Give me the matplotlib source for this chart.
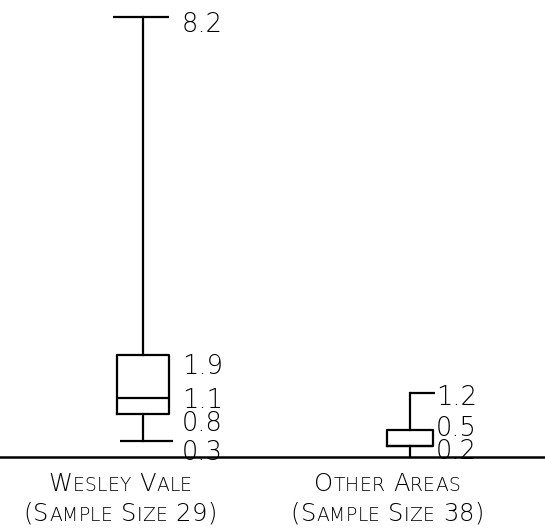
import matplotlib.pyplot as plt
from matplotlib.transforms import IdentityTransform, offset_copy

# box plot summary values
groups = ["Wesley Vale", "Other Areas"]
sample_sizes = [29, 38]
whislo = [0.3, 0.0]
q1 = [0.8, 0.2]
med = [1.1, 0.2]
q3 = [1.9, 0.5]
whishi = [8.2, 1.2]
value_labels = [[8.2, 1.9, 1.1, 0.8, 0.3], [1.2, 0.5, 0.2]]

plt.rcParams['font.family'] = ['DejaVu Sans']

fig = plt.figure(figsize=(5.45, 5.31), dpi=100)
ax = fig.add_axes([0, 0, 1, 1])
ax.axis('off')

positions = [1, 2]
stats = []
for i in range(len(groups)):
    stats.append(dict(whislo=whislo[i], q1=q1[i], med=med[i], q3=q3[i],
                      whishi=whishi[i], fliers=[]))

lw = 1.6
ax.bxp(stats, positions=positions, widths=[0.198, 0.172], showcaps=False,
       boxprops=dict(color='black', lw=lw),
       whiskerprops=dict(color='black', lw=lw),
       medianprops=dict(color='black', lw=lw))

# caps (the second group only has a short one-sided top cap)
cap_spans = [[(-0.112, 0.098), (-0.086, 0.112)], [(0.0, 0.093), None]]
for i, p in enumerate(positions):
    for val, span in zip([whishi[i], whislo[i]], cap_spans[i]):
        if span is None:
            continue
        ax.hlines(val, p + span[0], p + span[1], color='black', lw=lw)

# baseline
ax.axhline(0, color='black', lw=1.8)

ax.set_xlim(0.4644, 2.5056)
ax.set_ylim(-1.381, 8.526)

# value labels to the right of each box
label_dx = [0.146, 0.097]
label_drop = [[15, 19, 10, 17, 19], [12, 6, 13]]
for i, p in enumerate(positions):
    for v, d in zip(value_labels[i], label_drop[i]):
        tr = offset_copy(ax.transData, fig=fig, x=0, y=-d, units='dots')
        ax.text(p + label_dx[i], v, f"{v:.1f}", fontsize=18.5, va='baseline',
                ha='left', fontweight='light', transform=tr)


def small_caps(cx, y, s, big=17.5, small=13.5, track=0.3):
    runs = []
    for c in s:
        is_small = c.islower()
        if runs and runs[-1][1] == is_small:
            runs[-1][0] += c
        else:
            runs.append([c, is_small])
    r = fig.canvas.get_renderer()
    texts = []
    total = 0
    for run, is_small in runs:
        for ch in run:
            t = fig.text(0, 0, ch.upper(), fontsize=small if is_small else big,
                         transform=IdentityTransform(), va='baseline',
                         ha='left', fontweight='light')
            w = t.get_window_extent(r).width + track
            texts.append((t, w))
            total += w
    x = cx - total / 2
    for t, w in texts:
        t.set_position((x, y))
        x += w


for i, p in enumerate(positions):
    cx = ax.transData.transform((p - 0.085, 0))[0]
    small_caps(cx, 40, groups[i])
    small_caps(cx, 10, f"(Sample Size {sample_sizes[i]})")

fig.savefig("out.png", dpi=100)
